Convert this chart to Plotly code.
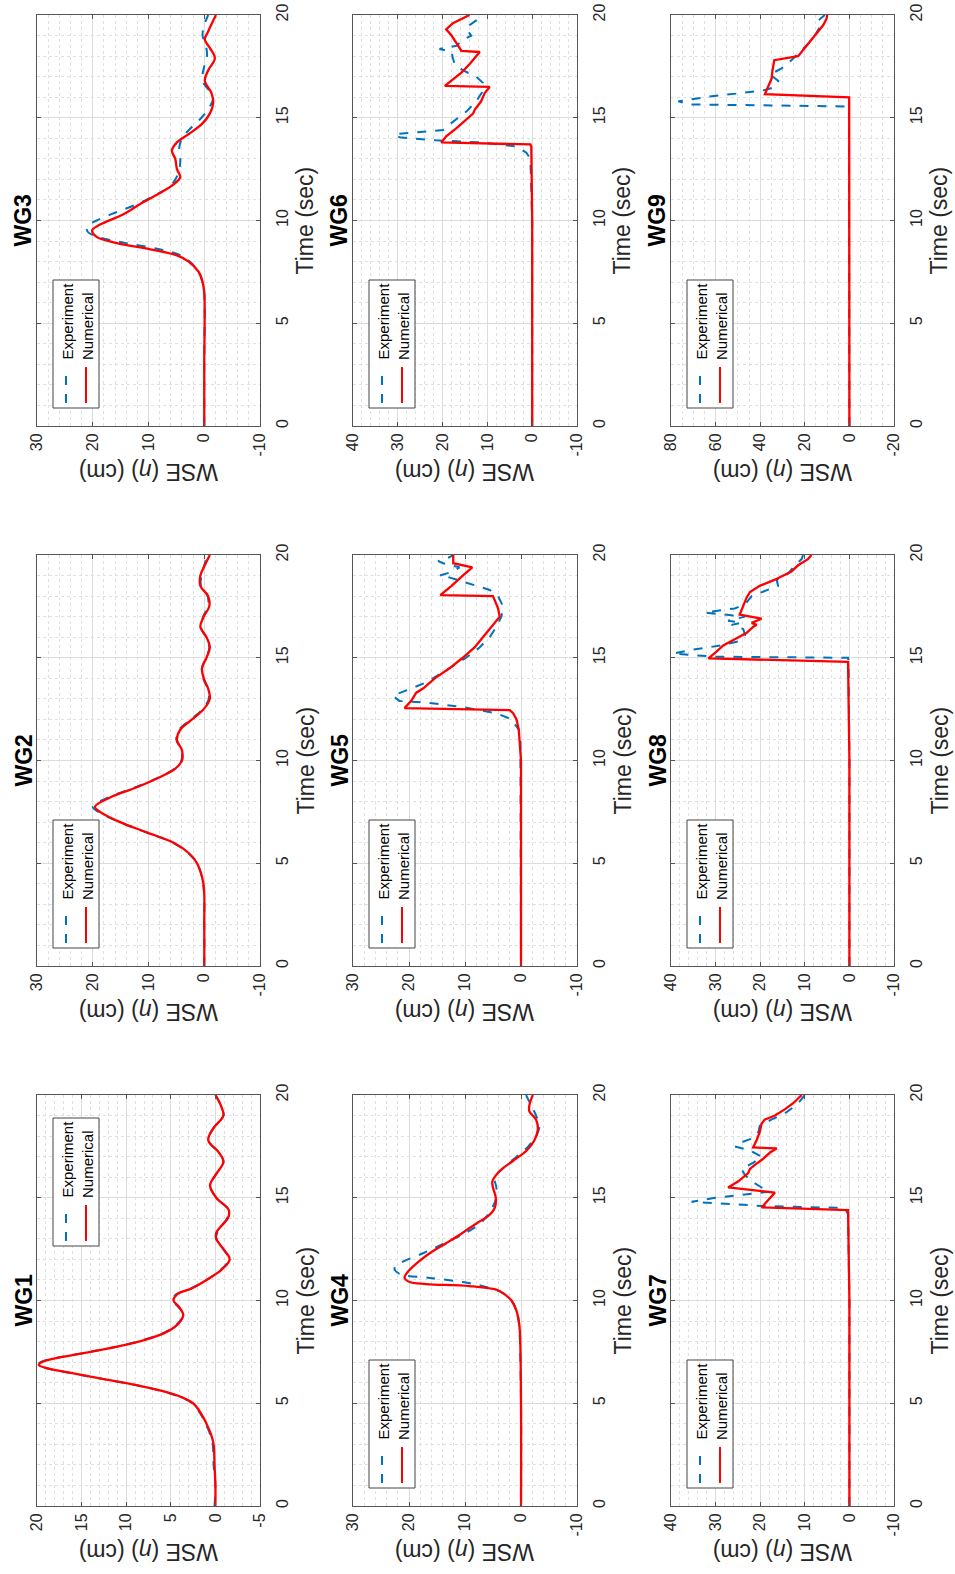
import plotly.graph_objects as go

# ---------------- data (time in s, WSE in cm) ----------------
WG1_T_NUM = [0, 1, 2, 3, 3.5, 4, 4.5, 5, 5.3, 5.6, 5.9, 6.2, 6.5, 6.7, 6.86, 7.0, 7.2, 7.5, 7.8, 8.1, 8.4, 8.7, 9.0, 9.3, 9.7, 10.0, 10.3, 10.6, 11.0, 11.5, 12.0, 12.5, 13.0, 13.3, 13.6, 14.0, 14.4, 15.0, 15.6, 16.1, 16.75, 17.2, 17.8, 18.4, 19.0, 19.5, 20.0]
WG1_NUM = [0, 0, 0.1, 0.2, 0.5, 1.0, 1.6, 2.5, 3.8, 6.0, 9.0, 12.8, 16.5, 18.8, 19.8, 19.5, 17.8, 14.0, 10.5, 7.8, 5.8, 4.6, 3.9, 3.6, 4.1, 4.7, 4.3, 2.6, 1.0, -0.7, -1.6, -0.9, -0.1, -0.1, -0.6, -1.4, -1.5, -0.1, 0.6, 0.0, -0.9, -0.4, 0.8, 0.2, -0.9, -0.6, 0.0]
WG1_T_EXP = WG1_T_NUM
WG1_EXP = [0.1, 0, 0.2, 0.3, 0.6, 1.1, 1.7, 2.6, 3.9, 6.1, 9.1, 12.9, 16.6, 18.9, 19.9, 19.6, 17.9, 14.1, 10.6, 7.9, 5.9, 4.7, 4.0, 3.5, 4.2, 4.8, 4.4, 2.7, 1.0, -0.6, -1.5, -0.9, -0.1, -0.2, -0.6, -1.3, -1.5, -0.1, 0.6, 0.0, -0.9, -0.4, 0.8, 0.2, -0.9, -0.6, 0.0]

WG2_T_NUM = [0, 2, 4, 5, 5.5, 6, 6.5, 7, 7.5, 7.75, 8.2, 8.7, 9.2, 9.6, 10, 10.5, 11, 11.5, 12, 12.5, 13, 13.5, 14, 14.5, 15, 15.5, 16, 16.5, 17, 17.5, 18, 18.5, 19, 19.5, 20]
WG2_NUM = [0, 0, 0.15, 1.3, 2.8, 5.5, 10.3, 15.1, 18.7, 19.6, 16.9, 12.1, 7.9, 5.2, 4.0, 4.0, 4.9, 4.3, 2.2, 0.1, -1.0, -0.7, 0.1, 0.4, -0.4, -1.0, -0.4, 0.7, 0.1, -0.9, -0.7, 0.7, 0.7, -0.1, -1.0]
WG2_T_EXP = WG2_T_NUM
WG2_EXP = [0, 0, 0.2, 1.3, 2.9, 5.6, 10.4, 15.2, 19.0, 20.0, 17.2, 12.3, 8.0, 5.3, 4.1, 4.1, 5.0, 4.5, 2.4, 0.3, -0.8, -0.6, 0.2, 0.4, -0.3, -0.9, -0.3, 0.6, 0.2, -0.7, -0.6, 0.6, 0.5, 0.0, -0.6]

WG3_T_NUM = [0, 3, 6.5, 7, 7.5, 8, 8.3, 8.6, 8.9, 9.2, 9.53, 9.8, 10.3, 10.8, 11.3, 11.7, 12.1, 12.5, 13, 13.4, 13.8, 14.2, 14.7, 15.2, 15.7, 16.2, 16.8, 17.3, 17.9, 18.4, 18.8, 19.2, 20]
WG3_NUM = [0, 0, 0, 0.3, 1.0, 2.8, 4.9, 9.7, 15.7, 19.3, 20.1, 18.7, 14.5, 11.5, 8.2, 5.8, 4.3, 4.9, 5.2, 5.8, 4.9, 2.8, 0.4, -1.0, -1.6, -1.3, -0.1, -0.7, -1.9, -1.0, -0.1, -0.7, -2.1]
WG3_T_EXP = [0, 3, 6.5, 7, 7.5, 8, 8.3, 8.6, 8.9, 9.2, 9.45, 9.7, 10.0, 10.4, 10.8, 11.3, 11.7, 12.2, 12.6, 13.0, 13.5, 14.0, 14.5, 15.0, 15.5, 16.0, 16.8, 17.5, 18.0, 18.5, 19.0, 19.5, 20]
WG3_EXP = [0, 0, 0, 0.3, 1.0, 2.6, 4.2, 8.0, 14.0, 19.0, 20.9, 21.0, 19.3, 15.8, 12.0, 8.3, 6.0, 4.8, 4.4, 4.3, 4.5, 4.0, 2.4, 0.5, -0.9, -1.6, 0.3, 0.0, -0.5, -0.3, 0.3, 0.0, -0.7]

WG4_T_NUM = [0, 5, 8.5, 9, 9.5, 10, 10.3, 10.5, 10.7, 10.8, 10.9, 11.1, 11.4, 11.8, 12.3, 12.8, 13.3, 13.8, 14.1, 14.5, 15, 15.5, 15.8, 16.3, 16.8, 17.3, 17.8, 18.3, 18.8, 19.2, 19.5, 20]
WG4_NUM = [0, 0, 0.2, 0.4, 0.8, 1.7, 2.9, 4.1, 9.2, 16.9, 19.9, 20.8, 20.2, 18.7, 16.3, 13.3, 10.4, 7.7, 5.9, 4.7, 4.5, 5.0, 5.1, 3.8, 1.4, -1.0, -2.4, -3.0, -2.7, -1.5, -1.5, -2.1]
WG4_T_EXP = [0, 5, 9, 9.5, 10, 10.4, 10.7, 10.9, 11.1, 11.3, 11.55, 11.8, 12.3, 12.8, 13.3, 13.8, 14.3, 15, 15.5, 16, 16.5, 17, 17.5, 18, 18.5, 19, 19.5, 20]
WG4_EXP = [0, 0, 0.4, 0.8, 1.7, 3.5, 6.8, 10.4, 16.3, 21.7, 22.6, 21.7, 17.5, 13.6, 9.8, 7.1, 5.6, 4.4, 4.4, 4.7, 2.9, 0.8, -1.3, -2.7, -3.3, -2.7, -1.8, -0.9]

WG5_T_NUM = [0, 5, 10, 11.5, 12, 12.3, 12.45, 12.55, 12.9, 13.3, 13.5, 14, 14.5, 15, 15.2, 15.5, 16, 16.5, 17, 17.4, 17.8, 18.0, 18.05, 18.5, 19, 19.4, 19.6, 20]
WG5_NUM = [0, 0, 0, 0.4, 0.8, 1.4, 2.0, 20.8, 19.6, 18.7, 17.5, 15.4, 12.7, 10.4, 9.5, 8.3, 6.8, 5.3, 3.8, 4.1, 4.7, 5.0, 14.4, 12.4, 10.4, 8.7, 12.1, 12.1]
WG5_T_EXP = [0, 5, 10, 11, 11.5, 12, 12.3, 12.6, 12.8, 12.9, 13.15, 13.4, 13.8, 14.3, 15, 15.5, 16, 16.5, 17, 17.5, 18, 18.3, 18.6, 18.9, 19.0, 19.2, 19.4, 19.6, 19.7, 19.9, 20]
WG5_EXP = [0, 0, 0, 0.1, 0.4, 1.7, 4.4, 10.4, 16.3, 21.7, 22.9, 20.5, 16.9, 13.9, 9.8, 7.4, 5.6, 4.4, 3.5, 3.2, 4.1, 5.6, 9.2, 12.7, 14.5, 12.1, 11.0, 13.9, 14.8, 12.7, 12.1]

WG6_T_NUM = [0, 5, 10, 13.6, 13.7, 13.8, 14.1, 14.5, 14.9, 15.2, 15.4, 15.8, 16.2, 16.5, 16.55, 16.8, 17.2, 17.6, 18.0, 18.2, 18.25, 18.6, 19.0, 19.3, 19.6, 20]
WG6_NUM = [0, 0, 0, 0.2, 0.4, 20.3, 19.2, 16.9, 14.7, 13.2, 12.8, 11.4, 10.6, 9.5, 19.5, 18.0, 15.8, 14.0, 12.5, 11.7, 15.8, 16.9, 18.0, 19.2, 17.7, 14.0]
WG6_T_EXP = [0, 5, 10, 13, 13.3, 13.6, 13.8, 13.9, 14.05, 14.2, 14.3, 14.4, 14.8, 15.3, 15.8, 16.3, 16.7, 17.0, 17.3, 17.6, 17.9, 18.2, 18.35, 18.5, 18.8, 19.0, 19.3, 19.5, 19.8, 20]
WG6_EXP = [0, 0, 0, 0.4, 1.3, 3.5, 11.7, 21.4, 29.6, 30.7, 25.1, 19.9, 17.7, 14.7, 12.5, 11.0, 11.0, 12.5, 15.4, 17.3, 17.7, 18.0, 20.7, 16.9, 15.4, 13.6, 14.7, 14.0, 12.1, 12.1]

WG7_T_NUM = [0, 5, 10, 14.4, 14.53, 14.7, 14.9, 15.1, 15.25, 15.5, 15.8, 16.2, 16.4, 16.6, 16.9, 17.2, 17.4, 17.45, 17.8, 18.2, 18.6, 18.8, 19.0, 19.3, 19.6, 20]
WG7_NUM = [0, 0, 0, 0.3, 19.7, 19.0, 18.2, 17.3, 16.7, 27.2, 24.9, 22.7, 22.3, 21.2, 19.3, 17.8, 16.3, 21.6, 20.8, 20.1, 19.7, 19.0, 16.7, 14.5, 12.6, 10.7]
WG7_T_EXP = [0, 5, 10, 14.2, 14.5, 14.6, 14.8, 15.0, 15.15, 15.3, 15.5, 15.8, 16.1, 16.4, 16.7, 17.0, 17.3, 17.5, 17.7, 17.9, 18.2, 18.5, 18.8, 19.1, 19.4, 19.7, 20]
WG7_EXP = [0, 0, 0, 0.3, 1.0, 19.5, 35.4, 30.1, 24.2, 17.8, 19.7, 21.9, 23.4, 24.2, 21.6, 19.7, 22.3, 25.7, 24.2, 21.6, 20.4, 20.1, 17.5, 14.5, 12.6, 11.1, 10.0]

WG8_T_NUM = [0, 5, 10, 14.8, 14.97, 15.3, 15.6, 15.9, 16.2, 16.5, 16.6, 16.7, 16.9, 17.1, 17.5, 17.9, 18.2, 18.5, 18.8, 19.2, 19.5, 19.6, 19.8, 20]
WG8_NUM = [0, 0, 0, 0.3, 31.6, 29.8, 28.3, 25.7, 23.1, 21.6, 20.8, 21.9, 19.7, 24.6, 23.8, 23.1, 22.3, 20.1, 16.7, 13.0, 11.5, 10.7, 9.3, 8.5]
WG8_T_EXP = [0, 5, 10, 14.8, 15.0, 15.05, 15.2, 15.4, 15.6, 15.8, 16.1, 16.4, 16.6, 16.7, 16.8, 17.0, 17.2, 17.4, 17.6, 18.0, 18.3, 18.5, 18.8, 19.1, 19.5, 19.8, 20]
WG8_EXP = [0, 0, 0, 0.2, 0.3, 30.0, 39.5, 35.0, 28.7, 24.9, 23.4, 23.8, 26.4, 24.2, 27.2, 23.4, 32.4, 25.7, 23.4, 21.9, 18.2, 16.0, 16.3, 13.7, 12.2, 10.7, 10.4]

WG9_T_NUM = [0, 5, 10, 15, 15.99, 16.15, 16.5, 16.9, 17.3, 17.8, 18.0, 18.5, 19.0, 19.5, 19.8, 20]
WG9_NUM = [0, 0, 0, 0, 0.1, 37.9, 36.4, 34.9, 34.5, 33.7, 23.0, 19.3, 15.5, 11.8, 10.3, 9.9]
WG9_T_EXP = [0, 5, 10, 15, 15.55, 15.65, 15.8, 15.9, 16.05, 16.2, 16.35, 16.5, 16.8, 17.1, 17.4, 17.8, 18.2, 18.6, 19.0, 19.4, 19.7, 20]
WG9_EXP = [0, 0, 0, 0, 0.2, 72.0, 76.7, 70.7, 61.8, 48.4, 37.9, 33.4, 31.9, 35.7, 30.4, 26.0, 22.2, 18.5, 15.5, 13.3, 14.3, 11.0]

GAUGE_NAMES = ["WG1", "WG2", "WG3", "WG4", "WG5", "WG6", "WG7", "WG8", "WG9"]
TIME_TICKS = [0, 5, 10, 15, 20]
WSE_TICKS = {
    1: [-5, 0, 5, 10, 15, 20],
    2: [-10, 0, 10, 20, 30], 3: [-10, 0, 10, 20, 30],
    4: [-10, 0, 10, 20, 30], 5: [-10, 0, 10, 20, 30],
    6: [-10, 0, 10, 20, 30, 40], 7: [-10, 0, 10, 20, 30, 40],
    8: [-10, 0, 10, 20, 30, 40],
    9: [-20, 0, 20, 40, 60, 80],
}
WSE_MINOR = {1: 1, 2: 2, 3: 2, 4: 2, 5: 2, 6: 2, 7: 2, 8: 2, 9: 5}

SERIES = {
    1: (WG1_T_EXP, WG1_EXP, WG1_T_NUM, WG1_NUM),
    2: (WG2_T_EXP, WG2_EXP, WG2_T_NUM, WG2_NUM),
    3: (WG3_T_EXP, WG3_EXP, WG3_T_NUM, WG3_NUM),
    4: (WG4_T_EXP, WG4_EXP, WG4_T_NUM, WG4_NUM),
    5: (WG5_T_EXP, WG5_EXP, WG5_T_NUM, WG5_NUM),
    6: (WG6_T_EXP, WG6_EXP, WG6_T_NUM, WG6_NUM),
    7: (WG7_T_EXP, WG7_EXP, WG7_T_NUM, WG7_NUM),
    8: (WG8_T_EXP, WG8_EXP, WG8_T_NUM, WG8_NUM),
    9: (WG9_T_EXP, WG9_EXP, WG9_T_NUM, WG9_NUM),
}

# ---------------- layout geometry (pixels) ----------------
W, H = 955, 1574
COLS = [(37, 260), (353, 577), (671, 894)]
ROWS = [(15, 426), (555, 966), (1095, 1506)]

def fx(p):
    return p / W

def fy(p):
    return 1 - p / H

FONT = "Liberation Sans, Arial, sans-serif"
BLUE = "#0072BD"
RED = "#FF0000"
TXT = "#262626"
AXC = "#555555"

fig = go.Figure()
layout = dict(
    template="none",
    width=W, height=H, margin=dict(l=0, r=0, t=0, b=0, pad=0, autoexpand=False),
    paper_bgcolor="white", plot_bgcolor="white", showlegend=False,
    font=dict(family=FONT, color=TXT),
)
annotations = []
shapes = []

for n in range(1, 10):
    c = (n - 1) // 3
    r = 3 - ((n - 1) % 3 + 1)
    left, right = COLS[c]
    top, bottom = ROWS[r]
    sfx = "" if n == 1 else str(n)
    xa, ya = "x" + sfx, "y" + sfx
    te, ve, tn, vn = SERIES[n]
    shape = "spline" if n <= 4 else "linear"
    fig.add_trace(go.Scatter(x=ve, y=te, mode="lines", xaxis=xa, yaxis=ya,
                             line=dict(color=BLUE, width=2, dash="dash", shape=shape),
                             name="Experiment"))
    fig.add_trace(go.Scatter(x=vn, y=tn, mode="lines", xaxis=xa, yaxis=ya,
                             line=dict(color=RED, width=2.3, shape=shape),
                             name="Numerical"))
    ticks = WSE_TICKS[n]
    layout["xaxis" + sfx] = dict(
        domain=[fx(left), fx(right)], anchor=ya, automargin=False,
        range=[max(ticks), min(ticks)],
        tickvals=ticks, ticktext=[str(t) for t in ticks],
        tickangle=-90, tickfont=dict(size=16, color=TXT, family=FONT),
        showgrid=True, gridcolor="#dcdcdc", gridwidth=1,
        minor=dict(dtick=WSE_MINOR[n], showgrid=True, gridcolor="#e0e0e0",
                   griddash="dot", gridwidth=1),
        zeroline=False, showline=True, linecolor=AXC, linewidth=1, mirror="ticks",
        ticks="inside", ticklen=4, tickcolor=AXC,
    )
    layout["yaxis" + sfx] = dict(
        domain=[fy(bottom), fy(top)], anchor=xa, side="right", automargin=False,
        range=[0, 20], tickvals=TIME_TICKS, ticktext=[str(t) for t in TIME_TICKS],
        tickangle=-90, tickfont=dict(size=16, color=TXT, family=FONT),
        ticklabelstandoff=8,
        showgrid=True, gridcolor="#dcdcdc", gridwidth=1,
        minor=dict(dtick=1, showgrid=True, gridcolor="#e0e0e0",
                   griddash="dot", gridwidth=1),
        zeroline=False, showline=True, linecolor=AXC, linewidth=1, mirror="ticks",
        ticks="inside", ticklen=4, tickcolor=AXC,
    )
    cy = (top + bottom) / 2
    cx = (left + right) / 2
    # panel title
    annotations.append(dict(text="<b>" + GAUGE_NAMES[n - 1] + "</b>", textangle=-90,
                            x=fx(left - 14), y=fy(cy), xref="paper", yref="paper",
                            showarrow=False, xanchor="center", yanchor="middle",
                            font=dict(size=23, color="black", family=FONT)))
    # time axis title
    annotations.append(dict(text="Time (sec)", textangle=-90,
                            x=fx(right + 45), y=fy(cy), xref="paper", yref="paper",
                            showarrow=False, xanchor="center", yanchor="middle",
                            font=dict(size=23, color=TXT, family=FONT)))
    # WSE axis title (upside down)
    annotations.append(dict(text="WSE (<i>η</i>) (cm)", textangle=180,
                            x=fx(cx), y=fy(bottom + 46), xref="paper", yref="paper",
                            showarrow=False, xanchor="center", yanchor="middle",
                            font=dict(size=23, color=TXT, family=FONT)))
    # legend box
    if n == 1:
        bb = top + 151
    else:
        bb = bottom - 18
    bt = bb - 128
    bl, br = left + 16, left + 62
    shapes.append(dict(type="rect", xref="paper", yref="paper",
                       x0=fx(bl), x1=fx(br), y0=fy(bb), y1=fy(bt),
                       line=dict(color="#444444", width=1), fillcolor="white", layer="above"))
    shapes.append(dict(type="line", xref="paper", yref="paper",
                       x0=fx(left + 29), x1=fx(left + 29), y0=fy(bb - 5), y1=fy(bb - 41),
                       line=dict(color=BLUE, width=2, dash="dash"), layer="above"))
    shapes.append(dict(type="line", xref="paper", yref="paper",
                       x0=fx(left + 49), x1=fx(left + 49), y0=fy(bb - 5), y1=fy(bb - 41),
                       line=dict(color=RED, width=2), layer="above"))
    annotations.append(dict(text="Experiment", textangle=-90,
                            x=fx(left + 30), y=fy(bb - 46), xref="paper", yref="paper",
                            showarrow=False, xanchor="center", yanchor="bottom",
                            font=dict(size=15, color="black", family=FONT)))
    annotations.append(dict(text="Numerical", textangle=-90,
                            x=fx(left + 50), y=fy(bb - 46), xref="paper", yref="paper",
                            showarrow=False, xanchor="center", yanchor="bottom",
                            font=dict(size=15, color="black", family=FONT)))

layout["annotations"] = annotations
layout["shapes"] = shapes
fig.update_layout(**layout)
fig.write_html("out.html")
